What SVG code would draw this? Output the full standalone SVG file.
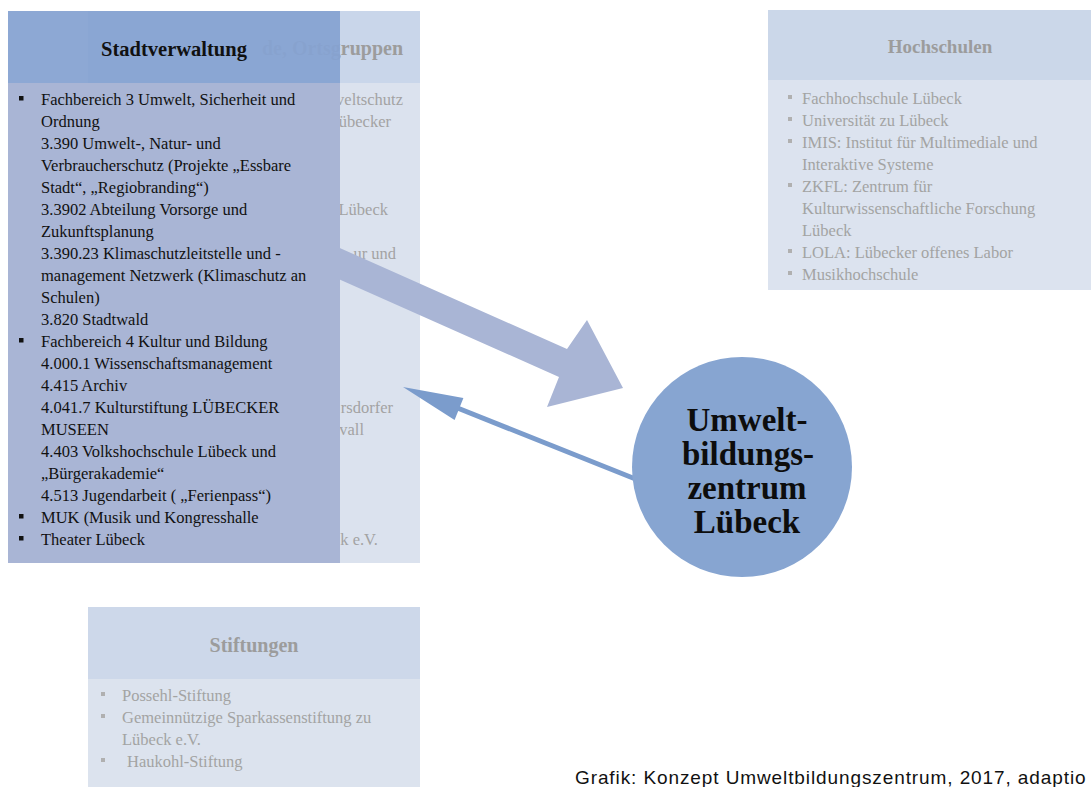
<svg xmlns="http://www.w3.org/2000/svg" width="1091" height="787" viewBox="0 0 1091 787">
<style>
.hdr{font-family:"Liberation Serif","Times New Roman",serif;font-weight:bold;font-size:20px;text-anchor:middle}
.body{font-family:"Liberation Serif","Times New Roman",serif;font-size:16.5px}
.dark{fill:#111}
.gray{fill:#a3a3a3}
.ghdr{fill:#9c9c9c}
.circ{font-family:"Liberation Serif","Times New Roman",serif;font-weight:bold;font-size:33px;text-anchor:middle;fill:#0d0d0d}
.cap{font-family:"Liberation Sans",Arial,sans-serif;font-size:19px;letter-spacing:0.9px;fill:#111}
</style>
<defs>
<rect id="bd" width="4.5" height="4.5" fill="#111"/>
<rect id="bg" width="4" height="4" fill="#b0b0b0"/>
</defs>
<rect width="1091" height="787" fill="#ffffff"/>

<g id="ortsgruppen">
<rect x="88" y="11" width="332" height="552" fill="#dbe2ee"/>
<rect x="88" y="11" width="332" height="72" fill="#c9d6ea"/>
<text class="hdr ghdr" x="403" y="55" style="text-anchor:end">de, Ortsgruppen</text>
<g class="body gray" text-anchor="end">
<text x="403" y="105">veltschutz</text>
<text x="391" y="127">übecker</text>
<text x="388" y="215">Lübeck</text>
<text x="396" y="259">ur und</text>
<text x="393" y="413">rsdorfer</text>
<text x="364" y="435">vall</text>
<text x="378" y="545">k e.V.</text>
</g>
</g>

<g id="connectors">
<polygon points="324,241 567,349 587,320 623,388 547,407 559,377 316,269" fill="#a9b5d5"/>
<line x1="643" y1="482" x2="450" y2="405" stroke="#7b9ccc" stroke-width="5"/>
<polygon points="403,387 463.4,398 454.6,420" fill="#7b9ccc"/>
</g>

<g id="stadtverwaltung">
<rect x="8" y="83" width="332" height="480" fill="#a9b5d5"/>
<rect x="8" y="11" width="332" height="72" fill="#86a3d1" fill-opacity="0.94"/>
<text class="hdr dark" x="174" y="56" style="font-size:20.5px">Stadtverwaltung</text>
<use href="#bd" x="19" y="96"/>
<use href="#bd" x="19" y="338"/>
<use href="#bd" x="19" y="514"/>
<use href="#bd" x="19" y="536"/>
<g class="body dark">
<text x="41" y="105">Fachbereich 3 Umwelt, Sicherheit und</text>
<text x="41" y="127">Ordnung</text>
<text x="41" y="149">3.390 Umwelt-, Natur- und</text>
<text x="41" y="171">Verbraucherschutz (Projekte „Essbare</text>
<text x="41" y="193">Stadt“, „Regiobranding“)</text>
<text x="41" y="215">3.3902 Abteilung Vorsorge und</text>
<text x="41" y="237">Zukunftsplanung</text>
<text x="41" y="259">3.390.23 Klimaschutzleitstelle und -</text>
<text x="41" y="281">management Netzwerk (Klimaschutz an</text>
<text x="41" y="303">Schulen)</text>
<text x="41" y="325">3.820 Stadtwald</text>
<text x="41" y="347">Fachbereich 4 Kultur und Bildung</text>
<text x="41" y="369">4.000.1 Wissenschaftsmanagement</text>
<text x="41" y="391">4.415 Archiv</text>
<text x="41" y="413">4.041.7 Kulturstiftung LÜBECKER</text>
<text x="41" y="435">MUSEEN</text>
<text x="41" y="457">4.403 Volkshochschule Lübeck und</text>
<text x="41" y="479">„Bürgerakademie“</text>
<text x="41" y="501">4.513 Jugendarbeit ( „Ferienpass“)</text>
<text x="41" y="523">MUK (Musik und Kongresshalle</text>
<text x="41" y="545">Theater Lübeck</text>
</g>
</g>

<g id="hochschulen">
<rect x="768" y="10" width="323" height="280" fill="#dce3ef"/>
<rect x="768" y="10" width="323" height="70" fill="#cbd7e9"/>
<text class="hdr ghdr" x="940" y="53" style="font-size:19px">Hochschulen</text>
<use href="#bg" x="788" y="95"/>
<use href="#bg" x="788" y="117"/>
<use href="#bg" x="788" y="139"/>
<use href="#bg" x="788" y="183"/>
<use href="#bg" x="788" y="249"/>
<use href="#bg" x="788" y="271"/>
<g class="body gray">
<text x="802" y="104">Fachhochschule Lübeck</text>
<text x="802" y="126">Universität zu Lübeck</text>
<text x="802" y="148">IMIS: Institut für Multimediale und</text>
<text x="802" y="170">Interaktive Systeme</text>
<text x="802" y="192">ZKFL: Zentrum für</text>
<text x="802" y="214">Kulturwissenschaftliche Forschung</text>
<text x="802" y="236">Lübeck</text>
<text x="802" y="258">LOLA: Lübecker offenes Labor</text>
<text x="802" y="280">Musikhochschule</text>
</g>
</g>

<g id="stiftungen">
<rect x="88" y="607" width="332" height="180" fill="#dce3ee"/>
<rect x="88" y="607" width="332" height="72" fill="#cdd8ea"/>
<text class="hdr ghdr" x="254" y="652">Stiftungen</text>
<use href="#bg" x="101" y="692"/>
<use href="#bg" x="101" y="714"/>
<use href="#bg" x="101" y="758"/>
<g class="body gray">
<text x="122" y="701">Possehl-Stiftung</text>
<text x="122" y="723">Gemeinnützige Sparkassenstiftung zu</text>
<text x="122" y="745">Lübeck e.V.</text>
<text x="127" y="767">Haukohl-Stiftung</text>
</g>
</g>

<g id="zentrum">
<circle cx="742" cy="467" r="110" fill="#87a5d1"/>
<text class="circ" x="747" y="431">Umwelt-</text>
<text class="circ" x="748" y="465">bildungs-</text>
<text class="circ" x="747" y="499">zentrum</text>
<text class="circ" x="747" y="533">Lübeck</text>
</g>

<text class="cap" x="575" y="784">Grafik: Konzept Umweltbildungszentrum, 2017, adaptio</text>
</svg>
